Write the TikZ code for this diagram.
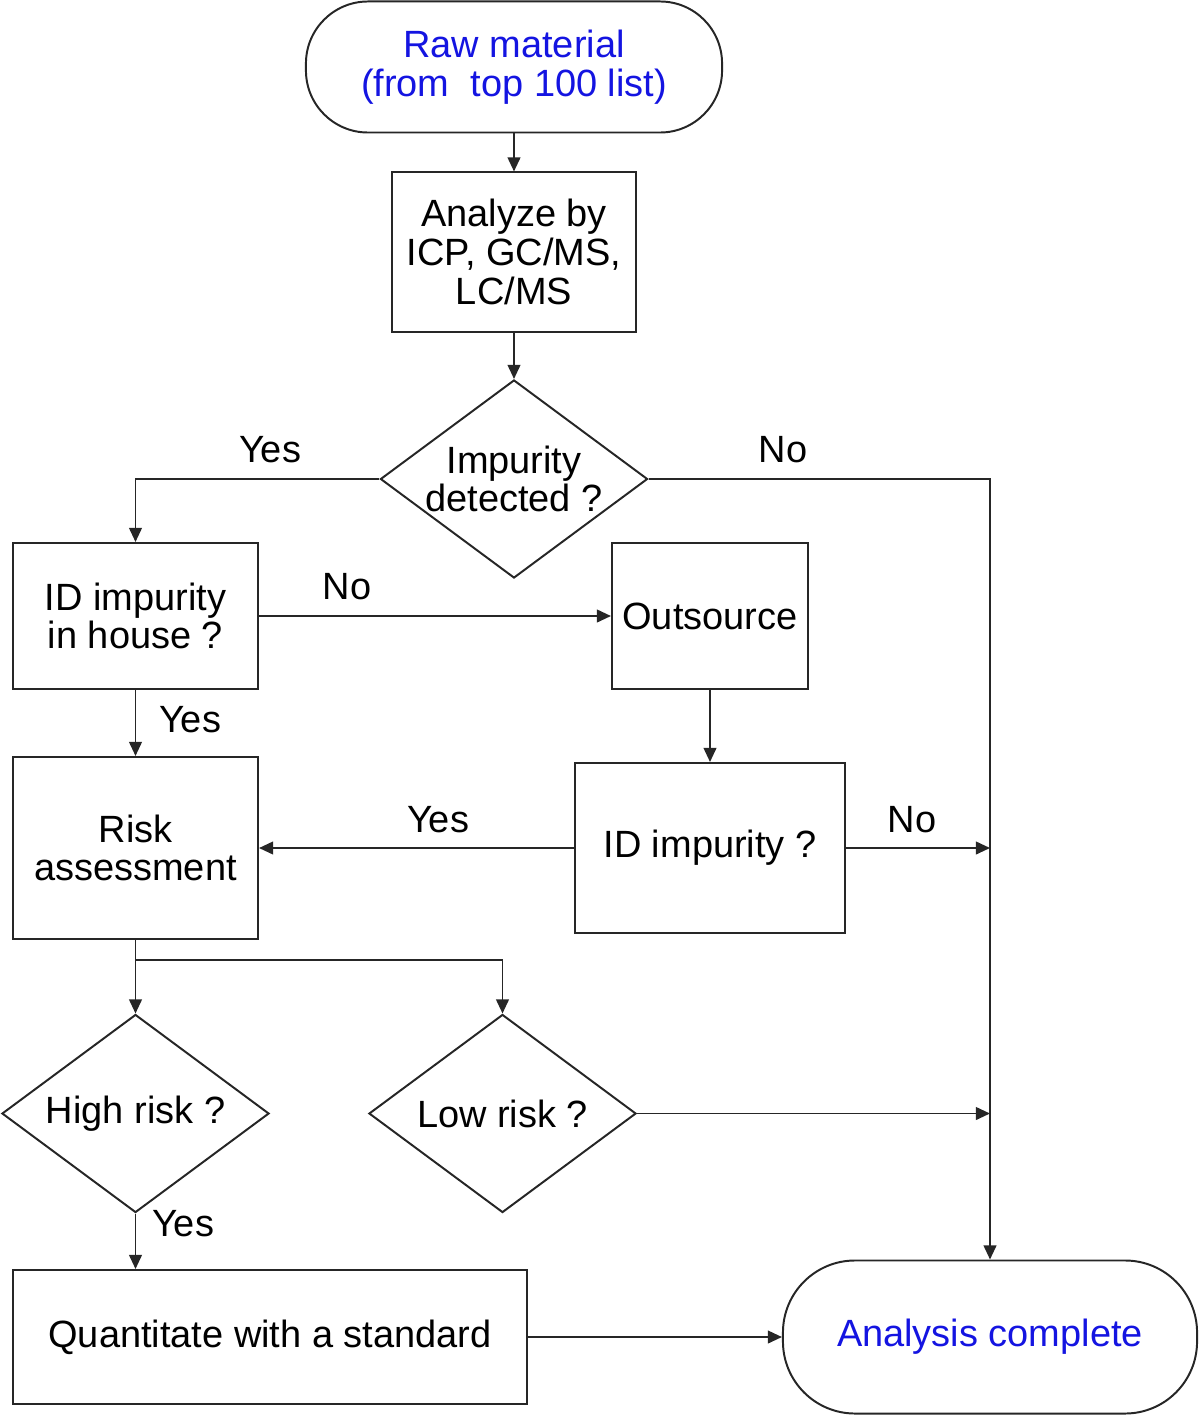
\documentclass[tikz,border=0pt]{standalone}
\usepackage{fontspec}
\setmainfont{Liberation Sans}
\usetikzlibrary{shapes.geometric,arrows.meta}

\definecolor{termblue}{RGB}{20,20,225}

\tikzset{
	flowline/.style={line width=1.4pt, draw=black!85},
	flowarrow/.style={flowline, -{Triangle[length=10pt,width=9pt]}},
	procbox/.style={draw=black!85, line width=1.4pt, rectangle, align=center, inner sep=0pt},
	termbox/.style={draw=black!85, line width=1.4pt, rectangle, align=center, text=termblue, inner sep=0pt},
	decbox/.style={draw=black!85, line width=1.4pt, diamond, aspect=1.35, align=center, inner sep=0pt,
		minimum width=6.675cm, minimum height=4.95cm},
	lbl/.style={inner sep=0pt}
}

\begin{document}
\begin{tikzpicture}[x=0.025cm, y=-0.025cm, font=\fontsize{27}{27.5}\selectfont]

		\useasboundingbox (0,0) rectangle (1200,1418);

		% Start and end
		\node[termbox, minimum width=10.4cm, minimum height=3.275cm, rounded corners=1.55cm] (raw) at (514,67)
			{Raw material\\(from\ \ top 100 list)};
		\node[termbox, minimum width=10.35cm, minimum height=3.825cm, rounded corners=1.8cm] (done) at (990,1337)
			{Analysis complete};

		% Process boxes
		\node[procbox, minimum width=6.1cm, minimum height=3.975cm] (analyze) at (514,252)
			{Analyze by\\ICP, GC/MS,\\LC/MS};
		\node[procbox, minimum width=6.125cm, minimum height=3.65cm] (inhouse) at (135.5,616)
			{ID impurity\\in house ?};
		\node[procbox, minimum width=4.9cm, minimum height=3.65cm] (outsource) at (710,616)
			{Outsource};
		\node[procbox, minimum width=6.125cm, minimum height=4.55cm] (risk) at (135.5,848)
			{Risk\\assessment};
		\node[procbox, minimum width=6.725cm, minimum height=4.25cm] (idimp) at (710,848)
			{ID impurity ?};
		\node[procbox, minimum width=12.85cm, minimum height=3.35cm] (quant) at (270,1337)
			{Quantitate with a standard};

		% Decisions
		\node[decbox] (detect) at (514,479) {Impurity\\detected ?};
		\node[decbox] (high) at (135.5,1113.5) {High risk ?};
		\node[decbox] (low) at (502.5,1113.5) {Low risk ?};

		% Junctions
		\coordinate (jno1) at (990,848);
		\coordinate (jno2) at (990,1113.5);
		\coordinate (split) at (135.5,960);

		% Connectors
		\draw[flowarrow] (raw) -- (analyze);
		\draw[flowarrow] (analyze) -- (detect);
		\draw[flowarrow] (detect.west) -| (inhouse.north);
		\draw[flowarrow] (detect.east) -| (done.north);
		\draw[flowarrow] (inhouse) -- (outsource);
		\draw[flowarrow] (inhouse) -- (risk);
		\draw[flowarrow] (outsource) -- (idimp);
		\draw[flowarrow] (idimp) -- (risk);
		\draw[flowarrow] (idimp) -- (jno1);
		\draw[flowline] (risk) -- (split);
		\draw[flowarrow] (split) -- (high.north);
		\draw[flowarrow] (split) -| (low.north);
		\draw[flowarrow] (low.east) -- (jno2);
		\draw[flowarrow] (high.south) -- (high.south |- quant.north);
		\draw[flowarrow] (quant) -- (done);

		% Labels
		\node[lbl] (yes1) at (270,450) {Yes};
		\node[lbl] (no1) at (783,450) {No};
		\node[lbl] (no2) at (347,587) {No};
		\node[lbl] (yes2) at (190,720) {Yes};
		\node[lbl] (yes3) at (438,820) {Yes};
		\node[lbl] (no3) at (912,820) {No};
		\node[lbl] (yes4) at (183,1224) {Yes};

\end{tikzpicture}
\end{document}
